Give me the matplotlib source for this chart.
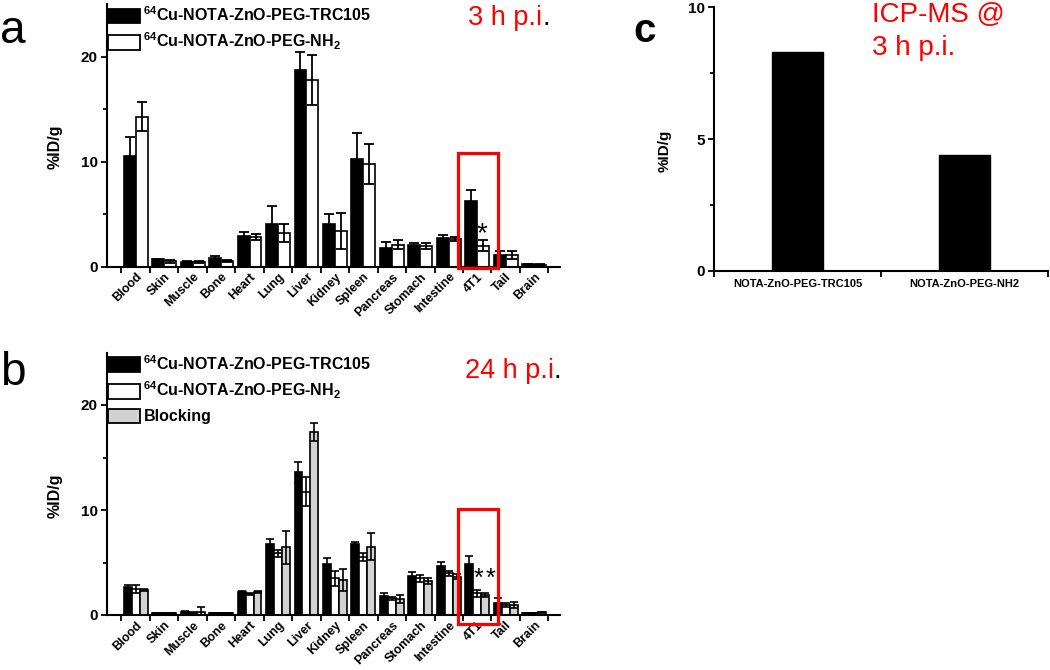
import matplotlib
matplotlib.use("Agg")
import matplotlib.pyplot as plt
import numpy as np
from matplotlib.patches import Patch, Rectangle

plt.rcParams["font.family"] = ["Liberation Sans", "DejaVu Sans"]
plt.rcParams["mathtext.default"] = "regular"
plt.rcParams["axes.linewidth"] = 1.5

# -----------------------------------
# DATA
# -----------------------------------

organs = ["Blood", "Skin", "Muscle", "Bone", "Heart", "Lung", "Liver", "Kidney",
          "Spleen", "Pancreas", "Stomach", "Intestine", "4T1", "Tail", "Brain"]

# panel a, 3 h p.i.
a_trc = [10.5, 0.7, 0.45, 0.8, 2.9, 4.1, 18.75, 4.1, 10.3, 1.75, 2.1, 2.7, 6.3, 1.1, 0.25]
a_trc_err = [1.85, 0.08, 0.05, 0.25, 0.4, 1.7, 1.7, 0.95, 2.45, 0.6, 0.15, 0.3, 1.05, 0.4, 0.03]
a_nh2 = [14.3, 0.5, 0.45, 0.55, 2.8, 3.2, 17.8, 3.4, 9.8, 2.1, 2.0, 2.65, 2.0, 1.1, 0.2]
a_nh2_err = [1.4, 0.1, 0.05, 0.1, 0.3, 0.85, 2.4, 1.7, 1.9, 0.45, 0.3, 0.2, 0.5, 0.35, 0.03]

# panel b, 24 h p.i.
b_trc = [2.7, 0.15, 0.3, 0.2, 2.15, 6.8, 13.6, 4.9, 6.75, 1.85, 3.7, 4.7, 4.85, 1.15, 0.2]
b_trc_err = [0.15, 0.02, 0.05, 0.03, 0.1, 0.4, 1.0, 0.5, 0.22, 0.22, 0.42, 0.35, 0.75, 0.48, 0.03]
b_nh2 = [2.48, 0.15, 0.2, 0.2, 2.0, 5.87, 11.75, 3.5, 5.5, 1.6, 3.5, 3.97, 2.06, 0.95, 0.2]
b_nh2_err = [0.38, 0.02, 0.05, 0.03, 0.08, 0.33, 1.35, 0.7, 0.38, 0.15, 0.32, 0.25, 0.32, 0.22, 0.03]
b_blk = [2.38, 0.15, 0.25, 0.2, 2.22, 6.44, 17.4, 3.33, 6.5, 1.5, 3.24, 3.65, 1.9, 0.95, 0.25]
b_blk_err = [0.12, 0.02, 0.55, 0.03, 0.1, 1.6, 0.85, 1.05, 1.28, 0.4, 0.25, 0.22, 0.23, 0.32, 0.04]

# panel c, ICP-MS
c_labels = ["NOTA-ZnO-PEG-TRC105", "NOTA-ZnO-PEG-NH2"]
c_values = [8.32, 4.4]

RED = "#ff0000"
GRAY = "#d2d2d2"
W, H = 1050, 670


def style_organ_axis(ax):
    x = np.arange(len(organs))
    ax.set_xlim(-1.02, 14.91)
    ax.set_ylim(0, 25)
    ax.set_xticks(x)
    ax.set_xticklabels(organs, rotation=45, ha="right", va="top",
                       rotation_mode="anchor", fontsize=9, fontweight="bold")
    ax.set_xticks(np.arange(len(organs) + 1) - 0.5, minor=True)
    ax.tick_params(axis="x", which="major", length=0, pad=3)
    ax.tick_params(axis="x", which="minor", length=4, width=1.3, direction="out")
    ax.set_yticks([0, 10, 20])
    ax.set_yticks([5, 15], minor=True)
    ax.tick_params(axis="y", which="major", length=4.5, width=1.3, labelsize=11, pad=2)
    ax.tick_params(axis="y", which="minor", length=3, width=1.3)
    for lab in ax.get_yticklabels():
        lab.set_fontweight("bold")
    ax.spines["top"].set_visible(False)
    ax.spines["right"].set_visible(False)
    ax.set_ylabel("%ID/g", fontsize=11.5, fontweight="bold")


fig = plt.figure(figsize=(W / 100, H / 100), dpi=100)

# -----------------------------------
# PANEL A
# -----------------------------------

ax_a = fig.add_axes([106.7 / W, 1 - 266.7 / H, (560 - 106.7) / W, 25 * 10.5 / H])
x = np.arange(len(organs))
wa = 0.42
ax_a.bar(x - wa / 2, a_trc, wa, color="black", edgecolor="black", lw=1.2)
ax_a.bar(x + wa / 2, a_nh2, wa, color="white", edgecolor="black", lw=1.2)
ax_a.errorbar(x - wa / 2, a_trc, yerr=a_trc_err, fmt="none", ecolor="black",
              elinewidth=1.3, capsize=3.5, capthick=1.3)
ax_a.errorbar(x + wa / 2, a_nh2, yerr=a_nh2_err, fmt="none", ecolor="black",
              elinewidth=1.3, capsize=3.5, capthick=1.3)
style_organ_axis(ax_a)
ax_a.yaxis.set_label_coords(-0.097, 0.458)
ax_a.add_patch(Rectangle((11.32, -0.12), 1.41, 10.95, fill=False, edgecolor=RED,
                         lw=2.3, clip_on=False, zorder=5))
ax_a.text(12.18, 3.1, "*", ha="center", va="center", fontsize=20)

handles = [Patch(facecolor="black", edgecolor="black", lw=1.3),
           Patch(facecolor="white", edgecolor="black", lw=1.3)]
ax_a.legend(handles, [r"$^{64}$Cu-NOTA-ZnO-PEG-TRC105", r"$^{64}$Cu-NOTA-ZnO-PEG-NH$_2$"],
            loc="upper left", bbox_to_anchor=(0.0, 1.0), frameon=False,
            borderaxespad=0, borderpad=0.1, handlelength=2.0, handleheight=1.05,
            handletextpad=0.2, labelspacing=0.4,
            prop={"size": 11.5, "weight": "bold"})

# -----------------------------------
# PANEL B
# -----------------------------------

ax_b = fig.add_axes([106.7 / W, 1 - 615 / H, (560 - 106.7) / W, 25 * 10.5 / H])
wb = 0.28
ax_b.bar(x - wb, b_trc, wb, color="black", edgecolor="black", lw=1.2)
ax_b.bar(x, b_nh2, wb, color="white", edgecolor="black", lw=1.2)
ax_b.bar(x + wb, b_blk, wb, color=GRAY, edgecolor="black", lw=1.2)
for off, vals, errs in [(-wb, b_trc, b_trc_err), (0, b_nh2, b_nh2_err), (wb, b_blk, b_blk_err)]:
    ax_b.errorbar(x + off, vals, yerr=errs, fmt="none", ecolor="black",
                  elinewidth=1.2, capsize=3, capthick=1.2)
style_organ_axis(ax_b)
ax_b.yaxis.set_label_coords(-0.097, 0.456)
ax_b.add_patch(Rectangle((11.32, -0.86), 1.41, 10.96, fill=False, edgecolor=RED,
                         lw=2.3, clip_on=False, zorder=5))
ax_b.text(12.06, 3.4, "*", ha="center", va="center", fontsize=18)
ax_b.text(12.45, 3.4, "*", ha="center", va="center", fontsize=18)

handles = [Patch(facecolor="black", edgecolor="black", lw=1.3),
           Patch(facecolor="white", edgecolor="black", lw=1.3),
           Patch(facecolor=GRAY, edgecolor="black", lw=1.3)]
ax_b.legend(handles, [r"$^{64}$Cu-NOTA-ZnO-PEG-TRC105", r"$^{64}$Cu-NOTA-ZnO-PEG-NH$_2$", "Blocking"],
            loc="upper left", bbox_to_anchor=(0.0, 1.0), frameon=False,
            borderaxespad=0, borderpad=0.1, handlelength=2.0, handleheight=1.05,
            handletextpad=0.2, labelspacing=0.45,
            prop={"size": 11.5, "weight": "bold"})

# -----------------------------------
# PANEL C
# -----------------------------------

ax_c = fig.add_axes([714 / W, 1 - 271 / H, (1048 - 714) / W, (271 - 7.3) / H])
xc = np.arange(len(c_labels))
ax_c.bar(xc, c_values, 0.3, color="black", edgecolor="black")
ax_c.set_xlim(-0.5, 1.5)
ax_c.set_ylim(0, 10)
ax_c.set_xticks(xc)
ax_c.set_xticklabels(c_labels, fontsize=8, fontweight="bold")
ax_c.set_xticks([-0.5, 0.5, 1.5], minor=True)
ax_c.tick_params(axis="x", which="major", length=0, pad=6)
ax_c.tick_params(axis="x", which="minor", length=4, width=1.3)
ax_c.set_yticks([0, 5, 10])
ax_c.set_yticks([2.5, 7.5], minor=True)
ax_c.tick_params(axis="y", which="major", length=4.5, width=1.3, labelsize=11, pad=2)
ax_c.tick_params(axis="y", which="minor", length=3, width=1.3)
for lab in ax_c.get_yticklabels():
    lab.set_fontweight("bold")
ax_c.spines["top"].set_visible(False)
ax_c.spines["right"].set_visible(False)
ax_c.set_ylabel("%ID/g", fontsize=11, fontweight="bold")
ax_c.yaxis.set_label_coords(-0.126, 0.455)

# -----------------------------------
# PANEL LETTERS AND RED NOTES
# -----------------------------------

fig.text(0.0, 1 - 43 / H, "a", fontsize=33, va="baseline", ha="left")
fig.text(0.0, 1 - 385 / H, "b", fontsize=33, va="baseline", ha="left")
fig.text(633 / W, 1 - 42 / H, "c", fontsize=29, fontweight="bold", va="baseline", ha="left")

fig.canvas.draw()
renderer = fig.canvas.get_renderer()
for xpx, ypx, txt in [(468, 25, "3 h p.i"), (465, 378, "24 h p.i")]:
    t = fig.text(xpx / W, 1 - ypx / H, txt, color=RED, fontsize=19.5, va="baseline", ha="left")
    bb = t.get_window_extent(renderer)
    fig.text(bb.x1 / W, 1 - ypx / H, ".", color="black", fontsize=19.5, va="baseline", ha="left")

fig.text(872 / W, 1 - 22 / H, "ICP-MS @", color=RED, fontsize=20, va="baseline", ha="left")
fig.text(872 / W, 1 - 55 / H, "3 h p.i.", color=RED, fontsize=20, va="baseline", ha="left")

fig.savefig("out.png", dpi=100)
